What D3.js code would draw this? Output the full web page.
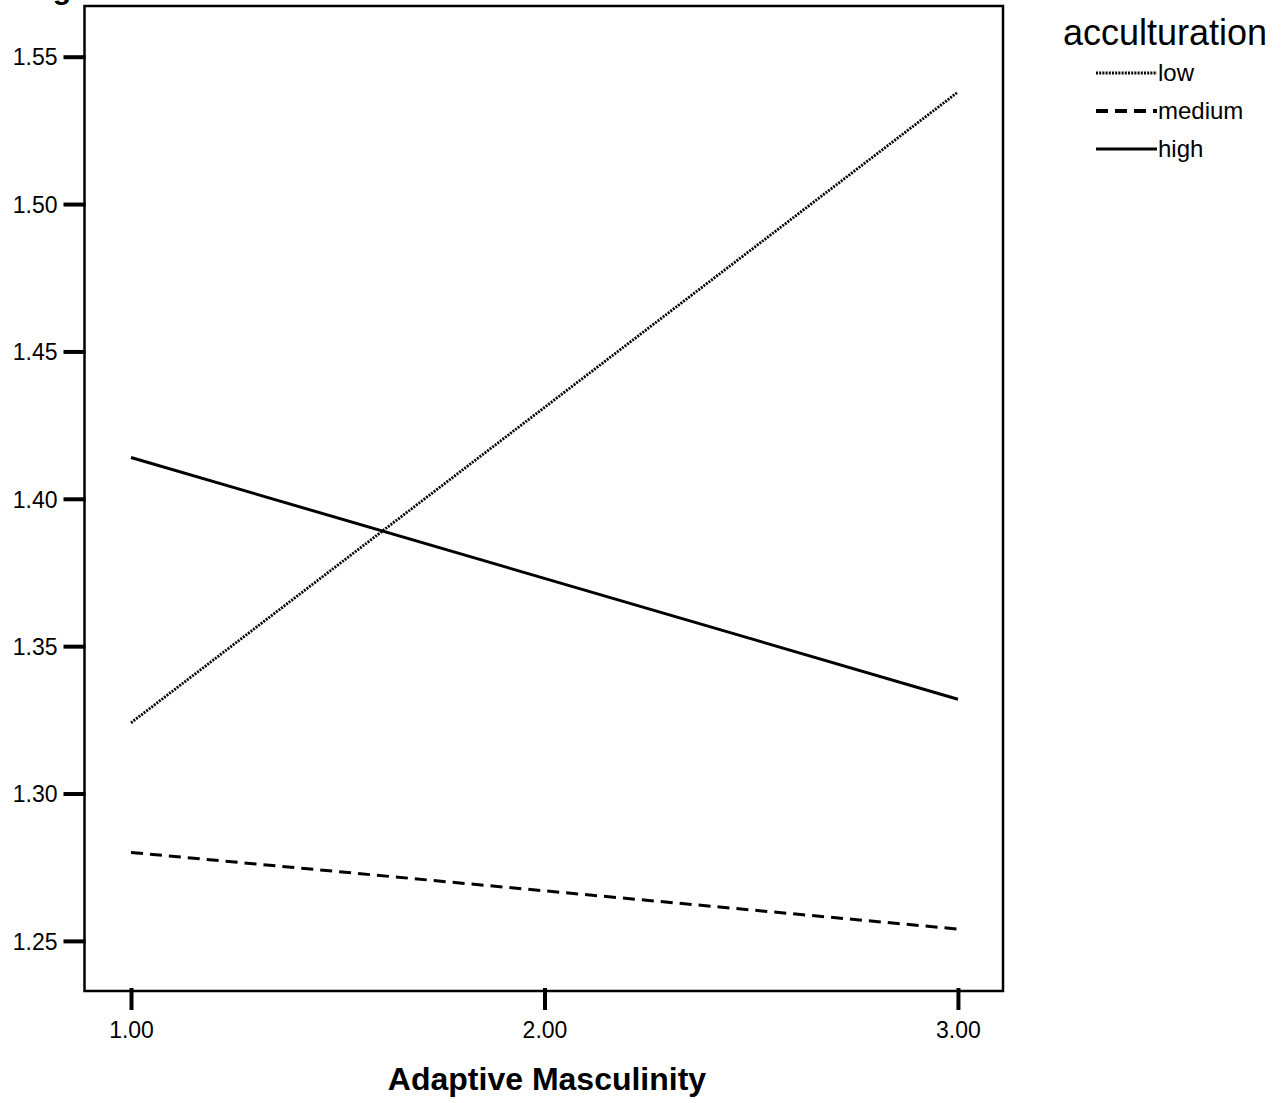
<!DOCTYPE html>
<html>
<head>
<meta charset="utf-8">
<script src="https://cdn.jsdelivr.net/npm/d3@7"></script>
<style>
  body { margin: 0; background: #fff; }
  text { font-family: "Liberation Sans", Arial, Helvetica, sans-serif; fill: #000; }
</style>
</head>
<body>
<div id="content"></div>
<script>
// datos
var xValues = [1, 3];
var groups = ["low", "medium", "high"];
var lowValues = [1.324, 1.538];
var mediumValues = [1.280, 1.254];
var highValues = [1.414, 1.332];
var xTicks = [1, 2, 3];
var yTicks = [1.25, 1.30, 1.35, 1.40, 1.45, 1.50, 1.55];

var width = 1288;
var height = 1103;

var plotLeft = 84.5, plotRight = 1003, plotTop = 6, plotBottom = 991;

var svg = d3.select("#content")
  .append("svg")
  .attr("width", width)
  .attr("height", height);

var x = d3.scaleLinear().domain([0.8875, 3.109]).range([plotLeft, plotRight]);
var y = d3.scaleLinear().domain([1.2330, 1.5672]).range([plotBottom, plotTop]);

// texto cortado arriba
svg.append("text")
  .attr("x", 62)
  .attr("y", -1)
  .attr("text-anchor", "middle")
  .style("font-size", "30px")
  .style("font-weight", "bold")
  .text("g");

// marco
svg.append("rect")
  .attr("x", plotLeft)
  .attr("y", plotTop)
  .attr("width", plotRight - plotLeft)
  .attr("height", plotBottom - plotTop)
  .attr("fill", "none")
  .attr("stroke", "#000")
  .attr("stroke-width", 2.5);

// ejes
var yAxis = svg.append("g")
  .attr("transform", "translate(" + (plotLeft + 1) + ",0)")
  .call(d3.axisLeft(y).tickValues(yTicks).tickFormat(d3.format(".2f")).tickSize(22).tickPadding(6));
yAxis.select(".domain").remove();
yAxis.selectAll("line").attr("stroke-width", 4);
yAxis.selectAll("text").style("font-size", "23px").attr("fill", "#000")
  .attr("font-family", "Liberation Sans, Arial, sans-serif")
  .attr("dy", "0.36em");

var xAxis = svg.append("g")
  .attr("transform", "translate(0," + (plotBottom - 3) + ")")
  .call(d3.axisBottom(x).tickValues(xTicks).tickFormat(d3.format(".2f")).tickSize(22));
xAxis.select(".domain").remove();
xAxis.selectAll("line").attr("stroke-width", 4);
xAxis.selectAll("text").style("font-size", "23px").attr("fill", "#000")
  .attr("font-family", "Liberation Sans, Arial, sans-serif")
  .attr("dy", null)
  .attr("y", 1038 - (plotBottom - 3));

svg.append("text")
  .attr("x", 547)
  .attr("y", 1090)
  .attr("text-anchor", "middle")
  .style("font-size", "32px")
  .style("font-weight", "bold")
  .text("Adaptive Masculinity");

// lineas
var series = [
  { name: "low", values: lowValues, dash: "2,1.2", width: 2.8 },
  { name: "medium", values: mediumValues, dash: "12,7", width: 3 },
  { name: "high", values: highValues, dash: null, width: 3 }
];

var line = d3.line()
  .x(function(d) { return x(d.x); })
  .y(function(d) { return y(d.y); });

svg.append("g")
  .selectAll("path")
  .data(series)
  .enter().append("path")
  .attr("d", function(s) {
    return line(xValues.map(function(v, i) { return { x: v, y: s.values[i] }; }));
  })
  .attr("fill", "none")
  .attr("stroke", "#000")
  .attr("stroke-width", function(s) { return s.width; })
  .attr("stroke-dasharray", function(s) { return s.dash; });

// leyenda
svg.append("text")
  .attr("x", 1063)
  .attr("y", 45)
  .style("font-size", "36px")
  .text("acculturation");

var legend = svg.append("g")
  .selectAll("g")
  .data(series)
  .enter().append("g")
  .attr("transform", function(d, i) { return "translate(0," + (73 + i * 38) + ")"; });

legend.append("line")
  .attr("x1", 1096)
  .attr("x2", 1157)
  .attr("stroke", "#000")
  .attr("stroke-width", function(s) { return s.name === "medium" ? 4 : s.width; })
  .attr("stroke-dasharray", function(s) { return s.dash; });

legend.append("text")
  .attr("x", 1158)
  .attr("y", 8)
  .style("font-size", "24px")
  .text(function(s) { return s.name; });
</script>
</body>
</html>
